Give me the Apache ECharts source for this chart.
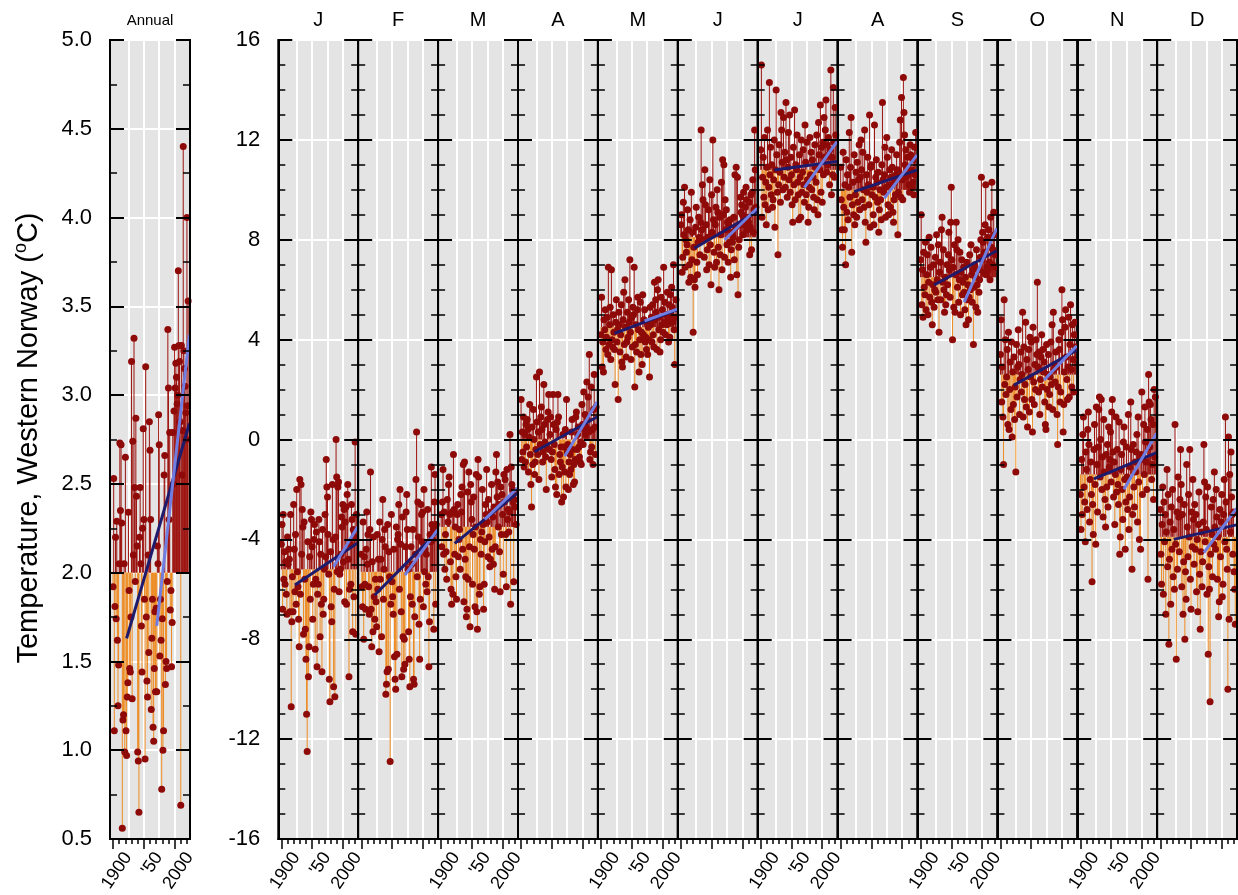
<!DOCTYPE html>
<html><head><meta charset="utf-8">
<script src="https://cdn.jsdelivr.net/npm/echarts@6/dist/echarts.min.js"></script>
<style>html,body{margin:0;padding:0;background:#fff}#c{width:1238px;height:895px}</style>
</head><body><div id="c"></div>
<script>
// ---------------- DATA ----------------
const startYear = 1900;
const panelNames = ['Annual','J','F','M','A','M','J','J','A','S','O','N','D'];
const baselines = [2.0,-5.2,-5.3,-3.5,0.0,4.5,8.1,10.8,10.0,6.5,2.6,-1.4,-3.9];

const annual = [1.92,2.53,1.11,1.81,2.20,1.74,2.29,1.62,1.25,1.48,
2.05,2.73,2.35,2.72,2.28,0.56,1.17,1.20,2.05,0.99,
2.65,1.11,0.97,1.30,1.38,2.34,1.90,1.46,1.44,1.75,
3.19,1.29,2.74,2.10,3.32,2.48,1.95,2.87,2.43,2.15,
0.99,0.94,0.65,2.20,2.48,2.05,1.70,1.44,2.25,2.81,
2.30,1.85,0.95,3.16,1.75,1.39,1.30,2.10,1.55,2.85,
2.69,2.30,1.23,1.63,1.85,1.13,1.05,1.46,1.78,1.33,
1.80,1.33,2.15,2.05,2.89,2.72,1.53,1.85,1.62,0.78,
1.74,1.00,1.11,2.55,2.66,1.37,1.50,1.46,1.95,3.37,
3.04,2.30,2.79,1.79,1.90,1.47,1.72,2.79,2.50,2.91,
3.27,3.04,3.18,3.10,2.95,3.00,3.70,3.28,3.19,2.85,
0.69,3.28,2.55,2.80,4.40,3.25,3.15,3.05,2.90,2.75,
4.00,2.94,3.53];

const jan = [-4.2,-3.4,-6.8,-3.0,-5.6,-4.5,-5.8,-4.9,-6.2,-7.0,
-3.9,-5.0,-4.4,-4.8,-6.9,-3.0,-10.7,-7.3,-5.5,-6.9,
-2.6,-4.4,-6.1,-3.8,-6.6,-2.0,-5.3,-5.9,-7.2,-8.3,
-1.6,-6.2,-1.8,-4.6,-2.8,-3.5,-7.8,-3.3,-5.6,-7.6,
-8.8,-11.0,-12.5,-4.1,-9.5,-8.3,-4.7,-6.4,-2.9,-3.2,
-4.3,-7.2,-5.8,-4.0,-3.4,-8.4,-5.6,-3.7,-9.1,-6.2,
-5.8,-3.2,-4.1,-7.9,-4.6,-6.6,-9.3,-3.6,-7.0,-6.4,
-5.2,-3.0,-4.7,-0.8,-1.9,-2.3,-3.8,-5.4,-9.6,-10.5,
-4.5,-6.7,-7.3,-1.8,-4.0,-9.9,-6.0,-10.3,-3.9,0.0,
-1.5,-5.3,-1.9,-1.7,-6.1,-5.4,-5.2,-4.6,-3.1,-3.5,
-2.6,-4.9,-2.8,-6.5,-3.3,-2.7,-6.6,-2.2,-1.8,-4.8,
-9.5,-6.0,-4.2,-5.8,-2.6,-3.2,-7.7,-3.6,-6.3,-3.9,
-0.1,-7.8,-3.0];

const feb = [-4.6,-5.9,-6.7,-3.3,-8.0,-4.7,-5.8,-6.8,-4.4,-2.9,
-5.0,-3.8,-5.9,-7.0,-3.6,-1.3,-6.8,-8.3,-4.9,-7.7,
-3.9,-6.3,-7.2,-5.6,-6.5,-7.5,-3.8,-6.0,-4.8,-8.5,
-3.3,-5.6,-4.8,-7.9,-4.0,-2.4,-6.4,-5.2,-3.6,-4.3,
-10.2,-9.8,-9.3,-3.4,-9.2,-4.5,-5.5,-12.9,-6.6,-3.0,
-5.7,-6.3,-7.0,-4.4,-8.7,-9.6,-10.0,-3.5,-8.6,-4.0,
-3.8,-2.6,-6.0,-2.0,-4.2,-6.9,-9.5,-3.1,-7.9,-9.2,
-8.0,-9.0,-4.3,-2.9,-2.2,-3.6,-5.2,-7.7,-8.8,-9.9,
-6.3,-4.3,-5.0,-6.6,-3.6,-9.6,-9.8,-7.1,-4.6,-1.6,
0.3,-5.5,-2.5,-3.9,-7.4,-8.8,-6.4,-2.6,-3.0,-4.1,
-2.9,-6.7,-2.0,-5.3,-4.4,-5.8,-4.6,-6.1,-2.8,-5.5,
-9.1,-7.3,-3.8,-4.1,-1.1,-3.4,-4.0,-3.6,-7.6,-2.5,
-1.4,-6.6,-3.4];

const mar = [-3.0,-4.3,-2.5,-1.2,-4.6,-2.9,-5.2,-3.8,-4.5,-5.6,
-2.4,-3.3,-1.8,-1.5,-3.0,-4.9,-6.0,-6.6,-2.9,-6.2,
-0.6,-2.8,-4.6,-3.5,-5.5,-6.4,-3.0,-2.6,-4.7,-4.0,
-3.6,-5.2,-2.2,-2.9,-1.9,-4.4,-1.0,-6.5,-0.9,-4.8,
-5.5,-7.1,-6.8,-2.1,-5.6,-1.3,-4.3,-7.5,-1.8,-2.5,
-3.2,-5.8,-3.8,-2.3,-4.4,-6.7,-3.5,-1.4,-6.9,-7.6,
-0.8,-1.5,-6.2,-5.9,-4.0,-4.6,-3.7,-2.0,-3.4,-6.8,
-5.8,-4.1,-2.6,-3.0,-1.2,-3.3,-4.7,-2.4,-3.9,-5.1,
-4.8,-2.9,-1.8,-4.4,-3.1,-5.0,-2.7,-6.0,-4.3,-1.3,
-0.6,-2.3,-1.7,-3.5,-2.6,-4.5,-6.1,-1.9,-3.8,-2.2,
-3.0,-5.4,-1.4,-2.5,-1.6,-3.8,-5.9,-1.2,-3.2,-2.8,
-3.7,-2.9,0.2,-6.6,-1.1,-1.8,-2.0,-2.5,-5.7,-2.4,
-2.7,-2.1,-3.4];

const apr = [1.6,-0.8,0.3,-0.5,0.9,-1.1,0.2,-0.9,0.6,-0.3,
0.8,0.4,-1.3,0.1,1.4,-0.6,-1.8,-2.7,0.5,-1.0,
1.2,0.0,-1.4,-0.9,-0.4,2.5,0.7,-0.6,0.3,-1.6,
2.7,-0.2,0.9,1.3,0.4,-0.9,-0.5,2.2,0.6,-0.1,
-0.7,-2.0,-0.3,0.8,1.1,1.8,-0.4,0.2,0.9,-0.8,
-1.5,-0.5,1.8,0.6,-0.2,-1.2,-1.9,0.4,-2.2,0.7,
1.8,0.9,-1.4,-0.6,-0.9,-0.3,-2.5,-1.1,0.2,-2.3,
-0.3,-1.3,0.4,-1.9,1.6,-0.5,-0.2,-2.0,-0.9,-1.4,
-0.6,-1.2,0.3,0.8,-0.4,-1.8,-1.0,-1.7,-0.8,0.9,
1.1,-0.4,0.2,0.5,-0.3,-0.7,-0.9,-0.1,-1.0,1.4,
0.6,-0.2,1.9,0.4,1.0,0.2,0.5,2.3,0.8,1.7,
0.3,3.4,-0.8,-0.5,2.1,-0.3,0.4,-1.0,1.2,2.6,
0.5,-0.6,1.3];

const may = [4.2,5.7,2.9,3.9,2.7,4.8,4.4,5.2,3.6,4.1,
4.9,3.4,6.9,3.8,4.6,5.3,3.2,6.8,4.0,3.7,
5.0,4.3,3.6,2.2,4.7,5.6,3.9,4.4,1.6,5.1,
4.6,3.5,4.2,5.4,3.1,2.9,4.8,5.9,3.8,6.4,
4.5,3.3,3.9,5.1,4.1,5.6,4.7,7.2,4.3,3.2,
4.9,3.7,5.3,5.0,6.9,2.1,3.8,4.6,3.5,5.2,
5.7,4.4,2.7,4.0,5.5,3.4,4.3,3.0,5.8,4.2,
4.8,5.2,3.9,4.1,3.6,4.7,3.4,4.5,4.0,2.5,
5.3,4.6,4.9,3.9,5.4,4.2,3.7,6.3,4.8,5.6,
5.1,3.6,6.0,6.4,4.4,4.9,3.5,4.0,5.7,4.6,
5.2,4.3,6.9,4.7,5.5,4.2,5.0,4.6,5.9,4.8,
3.9,5.4,4.1,5.8,5.0,6.1,5.3,4.7,7.0,4.4,
3.0,4.9,5.6];

const jun = [8.6,9.0,6.7,7.3,9.5,8.2,10.1,6.9,8.0,7.5,
7.8,9.2,8.4,6.3,7.0,8.8,6.5,9.9,7.2,8.3,
4.3,7.7,6.4,6.1,8.5,9.3,7.1,6.6,7.9,8.9,
8.1,7.4,8.7,12.4,8.4,10.2,9.6,8.0,7.3,10.8,
9.4,8.6,6.8,7.6,8.1,9.2,7.0,10.4,7.8,6.2,
9.8,8.3,12.0,8.8,7.5,6.9,8.6,9.3,7.1,10.0,
9.1,7.7,6.0,8.9,7.4,8.2,10.3,6.8,11.2,9.0,
11.0,7.3,9.6,8.4,9.2,7.8,8.7,7.1,8.6,7.9,
8.8,6.5,7.6,8.3,7.9,8.1,8.9,7.2,10.6,8.5,
10.9,6.6,10.5,5.8,7.7,8.0,8.6,9.7,9.1,9.4,
9.0,8.2,9.9,8.6,8.8,9.3,10.1,9.6,8.4,8.9,
8.7,9.5,7.4,8.5,9.8,7.6,9.9,10.4,8.3,9.2,
12.4,10.8,9.3];

const jul = [11.6,15.0,8.9,10.5,11.3,9.7,12.1,9.4,10.3,8.6,
10.9,12.4,9.2,10.1,14.3,10.6,11.7,9.8,11.0,9.3,
9.6,10.4,12.0,8.5,10.8,14.0,11.4,9.9,7.4,10.2,
11.8,10.7,9.5,13.1,12.4,11.1,10.0,12.9,10.5,11.5,
10.1,13.5,11.2,9.7,10.9,12.3,10.4,13.0,9.9,11.3,
10.6,9.4,8.7,11.7,10.2,13.2,9.6,11.0,10.8,12.2,
10.3,9.8,8.8,11.4,10.5,8.9,12.0,9.9,10.7,11.6,
10.2,9.5,12.6,11.1,9.8,11.9,10.4,8.7,9.3,10.1,
12.1,10.6,11.5,10.0,11.2,10.5,9.7,9.2,11.8,10.9,
10.3,12.2,9.6,9.0,12.7,11.4,10.8,13.4,9.9,11.7,
9.5,11.9,10.6,12.9,11.3,12.4,13.6,10.7,11.8,11.0,
12.1,11.4,10.2,11.6,14.8,9.8,11.3,10.6,14.1,11.9,
10.5,13.3,12.2];

const aug = [10.9,9.6,8.4,7.7,11.5,9.3,8.4,10.2,7.0,11.2,
9.1,10.6,8.8,10.1,12.3,9.7,10.9,12.9,7.5,9.4,
10.3,9.0,11.4,8.6,9.8,10.7,8.9,11.1,9.5,10.4,
11.8,9.2,10.5,12.0,10.8,9.6,11.5,10.0,9.3,12.4,
8.7,7.9,10.6,9.9,11.3,10.2,9.4,13.0,8.5,10.9,
11.0,9.8,10.1,9.0,8.6,12.6,9.7,10.5,11.2,10.3,
9.5,10.7,8.3,9.2,10.0,9.6,8.8,11.0,13.5,10.4,
9.9,10.6,11.7,8.9,10.1,12.1,11.3,9.4,9.0,10.2,
10.8,9.3,10.5,11.6,10.9,9.1,8.7,9.6,10.3,9.8,
10.6,11.4,10.8,8.2,9.9,10.7,11.9,12.8,9.7,13.7,
10.4,9.6,14.5,13.1,12.2,11.0,11.6,10.5,10.9,11.3,
10.6,10.2,9.9,11.8,11.4,10.8,10.1,10.3,11.2,9.8,
11.7,10.6,12.3];

const sep = [7.2,9.0,5.4,6.8,4.9,7.5,6.1,5.8,7.9,5.2,
6.6,7.4,5.0,6.3,8.1,5.7,6.9,7.7,5.5,4.6,
6.2,7.0,5.3,6.0,7.3,5.9,8.2,6.4,5.6,7.8,
4.3,6.7,7.1,5.6,8.4,8.9,6.3,7.6,6.0,5.1,
6.5,5.4,5.8,7.0,6.2,7.4,8.3,6.8,5.7,8.7,
10.1,7.2,4.0,6.9,5.3,7.8,5.1,6.6,8.7,7.6,
6.1,8.0,5.5,6.4,7.5,5.0,6.7,7.2,5.8,6.3,
6.9,5.9,5.2,6.5,4.6,7.1,5.6,6.2,4.8,5.7,
7.4,6.0,7.8,6.6,5.5,6.8,3.8,6.1,7.0,6.5,
5.3,7.6,6.2,5.1,6.8,5.9,6.4,7.3,8.0,10.5,
7.2,8.3,7.9,6.7,7.5,8.6,10.2,6.6,6.9,8.1,
6.8,8.4,7.1,6.4,8.9,7.7,10.3,7.0,7.6,9.1,
8.2,7.4,6.9];

const oct = [3.4,4.8,1.5,2.9,0.9,-1.0,5.6,2.2,4.0,1.8,
2.5,3.6,0.6,4.3,0.4,2.0,3.1,1.2,3.9,0.1,
2.7,1.4,3.3,0.8,2.1,-1.3,3.8,1.7,2.9,4.4,
3.0,1.0,2.4,3.5,1.9,2.6,5.1,0.9,3.7,1.6,
2.2,4.7,1.3,3.2,0.5,2.8,3.6,1.1,4.1,2.5,
3.9,1.6,0.3,4.5,2.3,1.4,3.0,2.0,4.0,3.4,
6.3,2.9,1.9,3.5,1.0,2.4,3.3,4.2,2.1,3.6,
2.7,3.1,1.5,0.6,0.4,3.8,2.0,2.6,3.4,1.3,
1.8,2.5,3.9,2.2,4.6,1.2,5.1,2.8,3.0,2.3,
3.5,2.9,1.0,-0.2,2.1,4.0,3.6,1.5,1.9,4.3,
6.0,4.8,0.3,1.4,2.7,4.5,5.2,3.3,2.4,1.6,
2.9,4.9,1.7,3.8,5.4,2.8,2.1,4.6,3.2,1.9,
4.2,4.7,3.7];

const nov = [-2.2,-3.6,-0.8,-3.0,0.2,0.9,-1.9,-2.5,-4.1,-0.5,
-1.2,-2.8,0.4,1.1,-0.2,-3.3,-1.6,-0.9,-2.2,-5.7,
-2.6,-3.8,-0.4,0.6,-1.8,-4.2,1.3,-1.0,-2.9,-0.3,
1.2,1.7,-1.5,0.0,1.6,-2.0,-0.7,-3.1,0.8,-1.3,
-2.4,-3.5,-0.6,-1.9,-0.2,-2.7,0.5,-1.1,-0.8,0.3,
-1.7,1.1,1.6,-0.5,-2.3,-0.9,-3.4,-1.4,0.9,-2.1,
-0.4,-1.8,-2.6,0.7,-4.6,-3.9,-1.2,-0.6,-2.0,-3.2,
-0.1,0.5,-1.6,-4.4,-2.5,-0.3,-1.5,-2.8,1.0,-3.6,
-2.3,-1.1,1.5,-0.4,-5.2,-3.0,-0.2,-1.9,-2.7,-0.9,
-1.3,-0.5,0.2,-3.3,0.9,-1.7,-4.0,-0.7,-4.4,-0.6,
1.9,-2.2,-0.8,0.6,-1.4,1.3,-0.1,-0.9,-2.0,0.4,
-5.6,2.6,1.5,-0.3,1.4,0.8,-1.6,-1.0,0.6,-2.4,
2.0,-0.7,1.7];

const dec = [-2.8,-4.6,-5.8,-3.4,-1.9,-6.2,-2.5,-4.1,-3.0,-7.0,
-3.7,-1.2,-5.1,-2.2,-8.2,-4.8,-3.3,-6.6,-2.7,-4.4,
-2.0,-5.5,-3.6,-6.0,0.6,-4.2,-8.8,-2.9,-5.2,-1.5,
-3.1,-4.5,-2.4,-0.4,-1.8,-5.9,-3.0,-7.0,-4.9,-2.6,
-8.0,-5.3,-6.4,-1.0,-3.5,-4.7,-2.2,-3.9,-0.4,-5.6,
-6.8,-2.9,-4.3,-1.6,-3.2,-5.0,-2.6,-4.4,-3.0,-6.1,
-4.0,-6.9,-3.4,-2.1,-5.4,-7.6,-4.5,-3.7,-5.9,-4.9,
-3.3,-0.2,-1.7,-4.1,-2.3,-3.6,-6.2,-1.9,-8.6,-5.1,
-6.0,-10.5,-4.6,-2.7,-3.8,-5.5,-2.4,-4.2,-1.3,-3.5,
-4.4,-2.0,-3.1,-5.6,-3.9,-7.1,-6.5,-2.8,-4.7,-3.3,
-2.2,-6.3,-5.8,-3.0,-1.6,-4.1,0.9,-2.5,-4.4,-5.2,
-10.0,0.1,-7.2,-1.4,-3.7,-0.5,-2.3,-3.0,-4.6,-2.9,
-5.3,-6.0,-7.4];

// trend lines: [start value, end value]
const longTrendYears = [1922, 2024];
const longTrendValues = [[1.63,2.84],[-5.83,-4.15],[-6.23,-3.69],[-4.16,-2.15],[-0.49,0.91],[4.25,5.19],[7.66,9.12],[10.79,11.13],[9.93,10.79],[6.19,7.56],[2.18,3.58],[-1.58,-0.53],[-4.0,-3.42]];
const shortTrendStart = [1971,1985,1971,1971,1971,1971,1971,1971,1971,1971,1971,1971,1971];
const shortTrendEnd = 2024;
const shortTrendValues = [[1.70,3.34],[-5.1,-3.5],[-5.43,-3.62],[-3.2,-1.95],[-0.67,1.51],[4.75,5.22],[7.99,9.26],[10.09,11.93],[9.66,11.39],[5.5,8.46],[2.38,3.75],[-1.99,0.25],[-4.53,-2.76]];

// axis tick values
const splitYears = [1925,1950,1975,2000];
const minorYears = [1900,1910,1920,1930,1940,1950,1960,1970,1980,1990,2000,2010,2020];
const majorYears = [1900,1950,2000];
const yearLabels = {1900:'1900',1950:"'50",2000:'2000'};

// ---------------- CHART ----------------
const allValues = [annual,jan,feb,mar,apr,may,jun,jul,aug,sep,oct,nov,dec];
const FONT = '"Liberation Sans", Arial, Helvetica, sans-serif';
const X_MIN = 1895, X_MAX = 2025;
const TOP = 40, HEIGHT = 799;

const grids=[], xAxes=[], yAxes=[], seriesList=[], graphics=[];
for (let p=0; p<13; p++) {
  const isAnnual = p===0;
  const left = isAnnual ? 110 : 278.3 + (p-1)*79.9;
  const width = isAnnual ? 80 : 79.9;
  grids.push({left:left, top:TOP, width:width, height:HEIGHT, show:true, backgroundColor:'#e4e4e4', borderColor:'#000', borderWidth:2, outerBoundsMode:'none'});
  const xi = xAxes.length;
  const xBase = {type:'value', gridIndex:p, min:X_MIN, max:X_MAX, position:'bottom'};
  xAxes.push(Object.assign({}, xBase, {axisLine:{show:false,onZero:false}, axisTick:{show:false, customValues:splitYears}, axisLabel:{show:false}, splitLine:{show:true, lineStyle:{color:'#ffffff', width:2}}, z:0}));
  xAxes.push(Object.assign({}, xBase, {axisLine:{show:true,onZero:false,lineStyle:{color:'#000',width:2}}, axisTick:{show:true, customValues:minorYears, length:5, lineStyle:{color:'#000',width:1.5}}, axisLabel:{show:false}, splitLine:{show:false}, z:5}));
  const labeled = isAnnual || (p%2===1);
  xAxes.push(Object.assign({}, xBase, {axisLine:{show:false,onZero:false}, axisTick:{show:true, customValues:majorYears, length:10, lineStyle:{color:'#000',width:1.5}},
    axisLabel:{show:labeled, customValues:majorYears, interval:0, rotate:56, margin:5, align:'right', verticalAlign:'top', padding:[9,0,0,0], fontSize:18, color:'#000', fontFamily:FONT, formatter:(v)=>yearLabels[v]||''},
    splitLine:{show:false}, z:5}));

  const yi = yAxes.length;
  const yBase = {type:'value', gridIndex:p, min:isAnnual?0.5:-16, max:isAnnual?5:16, interval:isAnnual?0.5:4};
  yAxes.push(Object.assign({}, yBase, {position:'left', axisLine:{show:false,onZero:false}, axisTick:{show:false}, axisLabel:{show:false}, splitLine:{show:true, lineStyle:{color:'#ffffff', width:2}}, z:0}));
  const tickCfg = {show:true, inside:true, length:14, lineStyle:{color:'#000', width:2}};
  const minorCfg = {show:true, splitNumber:isAnnual?2:4, length:7, lineStyle:{color:'#000', width:1.5}};
  yAxes.push(Object.assign({}, yBase, {position:'left', axisLine:{show:true,onZero:false,lineStyle:{color:'#000',width:2}}, axisTick:tickCfg, minorTick:minorCfg,
    axisLabel:{show:(isAnnual||p===1), margin:18, fontSize:22, color:'#000', fontFamily:FONT, formatter:isAnnual?(v)=>v.toFixed(1):(v)=>String(v)},
    splitLine:{show:false}, z:5}));
  yAxes.push(Object.assign({}, yBase, {position:'right', axisLine:{show:true,onZero:false,lineStyle:{color:'#000',width:2}}, axisTick:tickCfg, minorTick:minorCfg, axisLabel:{show:false}, splitLine:{show:false}, z:5}));

  const vals = allValues[p];
  const base = baselines[p];
  const pts = vals.map((v,i)=>[startYear+i, v]);
  seriesList.push({type:'custom', xAxisIndex:xi+1, yAxisIndex:yi+1, z:2, silent:true, animation:false, data:pts,
    renderItem:(params, api)=>{
      const x = api.value(0), v = api.value(1);
      const a = api.coord([x, base]), b = api.coord([x, v]);
      return {type:'line', shape:{x1:a[0], y1:a[1], x2:b[0], y2:b[1]}, style:{stroke: v>=base ? '#9c120e' : '#ee8b22', lineWidth:1}};
    }});
  seriesList.push({type:'scatter', xAxisIndex:xi+1, yAxisIndex:yi+1, z:3, silent:true, animation:false, data:pts, symbolSize:7, itemStyle:{color:'#8e0a08', opacity:1}});
  seriesList.push({type:'line', xAxisIndex:xi+1, yAxisIndex:yi+1, z:4, silent:true, animation:false, symbol:'none',
    data:[[longTrendYears[0], longTrendValues[p][0]],[longTrendYears[1], longTrendValues[p][1]]], lineStyle:{color:'#1e1a6c', width:3}});
  seriesList.push({type:'line', xAxisIndex:xi+1, yAxisIndex:yi+1, z:4, silent:true, animation:false, symbol:'none',
    data:[[shortTrendStart[p], shortTrendValues[p][0]],[shortTrendEnd, shortTrendValues[p][1]]], lineStyle:{color:'#707ee2', width:3}});

  graphics.push({type:'text', x:left+width/2, y:isAnnual?21:20, style:{text:panelNames[p], fontSize:isAnnual?15:20, fontFamily:FONT, fill:'#000', align:'center', verticalAlign:'middle'}});
}
graphics.push({type:'text', x:29, y:438, rotation:Math.PI/2,
  style:{text:'{a|Temperature, Western Norway (}{s|o}{a|C)}', align:'center', verticalAlign:'middle', fill:'#000',
    rich:{a:{fontSize:29, fontFamily:FONT, fill:'#000', lineHeight:34}, s:{fontSize:18, fontFamily:FONT, fill:'#000', verticalAlign:'top', lineHeight:22}}}});

const chart = echarts.init(document.getElementById('c'), null, {renderer:'canvas'});
chart.setOption({animation:false, grid:grids, xAxis:xAxes, yAxis:yAxes, series:seriesList, graphic:graphics});
</script>
</body></html>
